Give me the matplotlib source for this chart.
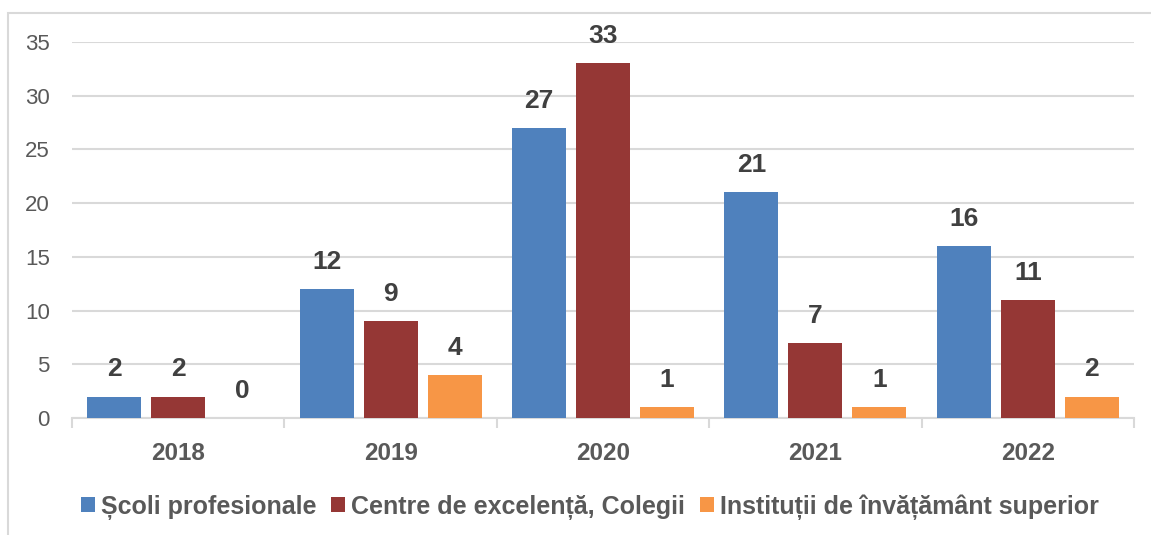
import numpy as np
import matplotlib.pyplot as plt
from matplotlib.patches import Rectangle

years = ['2018', '2019', '2020', '2021', '2022']
scoli = [2, 12, 27, 21, 16]
centre = [2, 9, 33, 7, 11]
institutii = [0, 4, 1, 1, 2]
serii = ['Școli profesionale', 'Centre de excelență, Colegii',
         'Instituții de învățământ superior']
culori = ['#4F81BD', '#953735', '#F79646']

plt.rcParams['font.family'] = ['Liberation Sans', 'DejaVu Sans']

fig = plt.figure(figsize=(11.51, 5.35), dpi=100)
ax = fig.add_axes([72 / 1151, 1 - 418 / 535, (1134 - 72) / 1151, (418 - 42) / 535])

x = np.arange(len(years))
latime = 0.254
pas = 0.301
for i, (vals, nume, c) in enumerate(zip([scoli, centre, institutii], serii, culori)):
    bars = ax.bar(x + (i - 1) * pas, vals, width=latime, color=c, label=nume, zorder=3)
    ax.bar_label(bars, padding=11, fontsize=19, fontweight='bold', color='#404040')

ax.set_xlim(-0.5, len(years) - 0.5)
ax.set_ylim(0, 35)
ax.set_yticks(range(0, 36, 5))
ax.yaxis.grid(True, color='#d9d9d9', linewidth=1.5, zorder=0)
for s in ['left', 'right', 'top']:
    ax.spines[s].set_visible(False)
ax.spines['bottom'].set_color('#d9d9d9')
ax.spines['bottom'].set_linewidth(1.5)
ax.tick_params(axis='y', length=0, labelsize=16, labelcolor='#595959', pad=16)

ax.set_xticks(x)
ax.set_xticklabels(years, fontsize=17.5, fontweight='bold', color='#595959')
ax.tick_params(axis='x', length=0, pad=17)
ax.set_xticks(np.arange(-0.5, len(years)), minor=True)
ax.tick_params(axis='x', which='minor', length=7, width=1.5, color='#d9d9d9')

leg = fig.legend(loc='center', bbox_to_anchor=(590 / 1151, 1 - 507 / 535), ncol=3,
                 frameon=False, handlelength=0.55, handleheight=0.55,
                 handletextpad=0.25, columnspacing=0.6,
                 prop={'size': 18, 'weight': 'bold'})
for t in leg.get_texts():
    t.set_color('#595959')

fig.patches.append(Rectangle((8 / 1151, -0.1), 1.2, 1 - 13 / 535 + 0.1,
                             transform=fig.transFigure, fill=False,
                             edgecolor='#d9d9d9', linewidth=1.5))

fig.savefig('out.png', dpi=100)
